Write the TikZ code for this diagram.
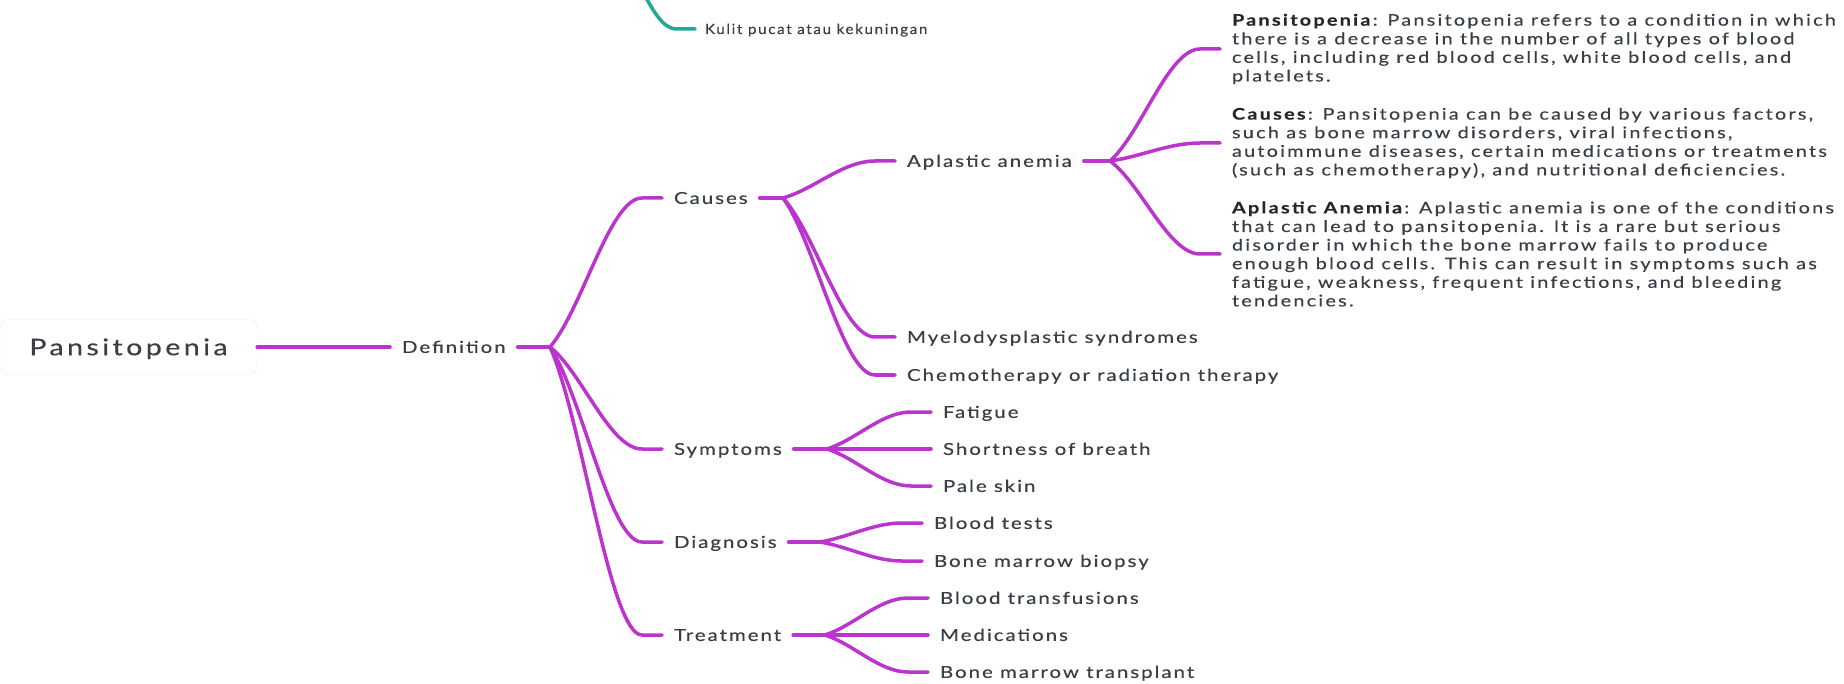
\documentclass[tikz,border=0pt]{standalone}
\usepackage{fontspec}
\setmainfont{Lato}[FakeStretch=1.24,LetterSpace=12,FakeBold=0.4]
\newfontfamily\rootfont{Lato}[FakeStretch=1.24,LetterSpace=15,FakeBold=0.4]
\newfontfamily\notefont{Lato}[FakeStretch=1.24,LetterSpace=14,FakeBold=0.4]
\newfontfamily\smallfont{Lato}[FakeStretch=1.08,LetterSpace=12,FakeBold=0.4]
\usetikzlibrary{calc}

\definecolor{branch}{RGB}{187,52,206}
\definecolor{tealbranch}{RGB}{34,168,150}
\definecolor{ink}{RGB}{58,62,70}
\definecolor{inkdark}{RGB}{36,39,44}

\tikzset{
  br/.style={draw=branch, line width=3.5pt, line cap=round},
  tbr/.style={draw=tealbranch, line width=3.5pt, line cap=round},
  topic/.style={anchor=west, inner xsep=12pt, inner ysep=0pt, outer sep=0pt,
    text height=11.8pt, text depth=0pt, text=ink,
    font=\fontsize{16.5}{20}\selectfont},
  note/.style={anchor=west, inner xsep=12pt, inner ysep=0pt, outer sep=0pt,
    align=left, text=ink, font=\notefont\fontsize{16}{18.6}\selectfont},
  rootbox/.style={draw=black!7, fill=white, rounded corners=8pt,
    minimum width=257pt, minimum height=55pt, inner sep=0pt,
    text height=16.5pt, text depth=0pt, text=ink,
    font=\rootfont\fontsize{23}{28}\selectfont},
}

% S-shaped link from a junction to the west side of a topic
\newcommand\branchlink[3][br]{%
  \draw[#1] let \p1=(#2), \p2=($(#3.west)+(-20,0)$) in
    (\p1) .. controls ({\x1+0.35*(\x2-\x1)},{\y1+0.25*(\y2-\y1)})
           and ({\x2-0.35*(\x2-\x1)},\y2) .. (\p2) -- (#3.west);}

\begin{document}
\begin{tikzpicture}[x=1pt,y=-1pt]
\useasboundingbox (0,0) rectangle (1844,684);
\clip (0,0) rectangle (1844,684);

% root
\node[rootbox] (root) at (128.5,347) {Pansitopenia};

% first level
\node[topic] (def) at (390,347) {Definition};
\coordinate (jD) at (550,347);

\node[topic] (causes)    at (662,198) {Causes};
\node[topic] (symptoms)  at (662,449) {Symptoms};
\node[topic] (diagnosis) at (662,542) {Diagnosis};
\node[topic] (treatment) at (662,635) {Treatment};

% causes
\coordinate (jC) at (783,198);
\node[topic] (aplastic) at (895,161) {Aplastic anemia};
\node[topic] (myelo)    at (895,337) {Myelodysplastic syndromes};
\node[topic] (chemo)    at (895,375) {Chemotherapy or radiation therapy};

% notes on aplastic anemia
\coordinate (jA) at (1110,161);
\node[note] (n1) at (1220,49) {\textcolor{inkdark}{\textbf{Pansitopenia}}: Pansitopenia refers to a condition in which\\
there is a decrease in the number of all types of blood\\
cells, including red blood cells, white blood cells, and\\
platelets.};
\node[note] (n2) at (1220,143) {\textcolor{inkdark}{\textbf{Causes}}: Pansitopenia can be caused by various factors,\\
such as bone marrow disorders, viral infections,\\
autoimmune diseases, certain medications or treatments\\
(such as chemotherapy), and nutritional deficiencies.};
\node[note] (n3) at (1220,254) {\textcolor{inkdark}{\textbf{Aplastic Anemia}}: Aplastic anemia is one of the conditions\\
that can lead to pansitopenia. It is a rare but serious\\
disorder in which the bone marrow fails to produce\\
enough blood cells. This can result in symptoms such as\\
fatigue, weakness, frequent infections, and bleeding\\
tendencies.};

% symptoms
\coordinate (jS) at (827,449);
\node[topic] (fatigue) at (931,412) {Fatigue};
\node[topic] (breath)  at (931,449) {Shortness of breath};
\node[topic] (pale)    at (931,486) {Pale skin};

% diagnosis
\coordinate (jG) at (820,542);
\node[topic] (bloodtest) at (922,523) {Blood tests};
\node[topic] (biopsy)    at (922,561) {Bone marrow biopsy};

% treatment
\coordinate (jT) at (825,635);
\node[topic] (transf)     at (928,598) {Blood transfusions};
\node[topic] (meds)       at (928,635) {Medications};
\node[topic] (transplant) at (928,672) {Bone marrow transplant};

% teal branch coming from above
\node[topic, inner xsep=10pt, text height=10pt, font=\smallfont\fontsize{14}{17}\selectfont] (kulit) at (695,29) {Kulit pucat atau kekuningan};
\coordinate (kt) at (626,-40);
\draw[tbr] (kt) .. controls (650,5) and (660,29) .. ($(kulit.west)+(-18,0)$) -- (kulit.west);

% connectors
\draw[br] (root.east) -- (def.west);
\draw[br] (def.east) -- (jD);
\branchlink{jD}{causes}
\branchlink{jD}{symptoms}
\branchlink{jD}{diagnosis}
\branchlink{jD}{treatment}

\draw[br] (causes.east) -- (jC);
\branchlink{jC}{aplastic}
\branchlink{jC}{myelo}
\branchlink{jC}{chemo}

\draw[br] (aplastic.east) -- (jA);
\branchlink{jA}{n1}
\branchlink{jA}{n2}
\branchlink{jA}{n3}

\draw[br] (symptoms.east) -- (jS);
\branchlink{jS}{fatigue}
\branchlink{jS}{breath}
\branchlink{jS}{pale}

\draw[br] (diagnosis.east) -- (jG);
\branchlink{jG}{bloodtest}
\branchlink{jG}{biopsy}

\draw[br] (treatment.east) -- (jT);
\branchlink{jT}{transf}
\branchlink{jT}{meds}
\branchlink{jT}{transplant}
\end{tikzpicture}
\end{document}
